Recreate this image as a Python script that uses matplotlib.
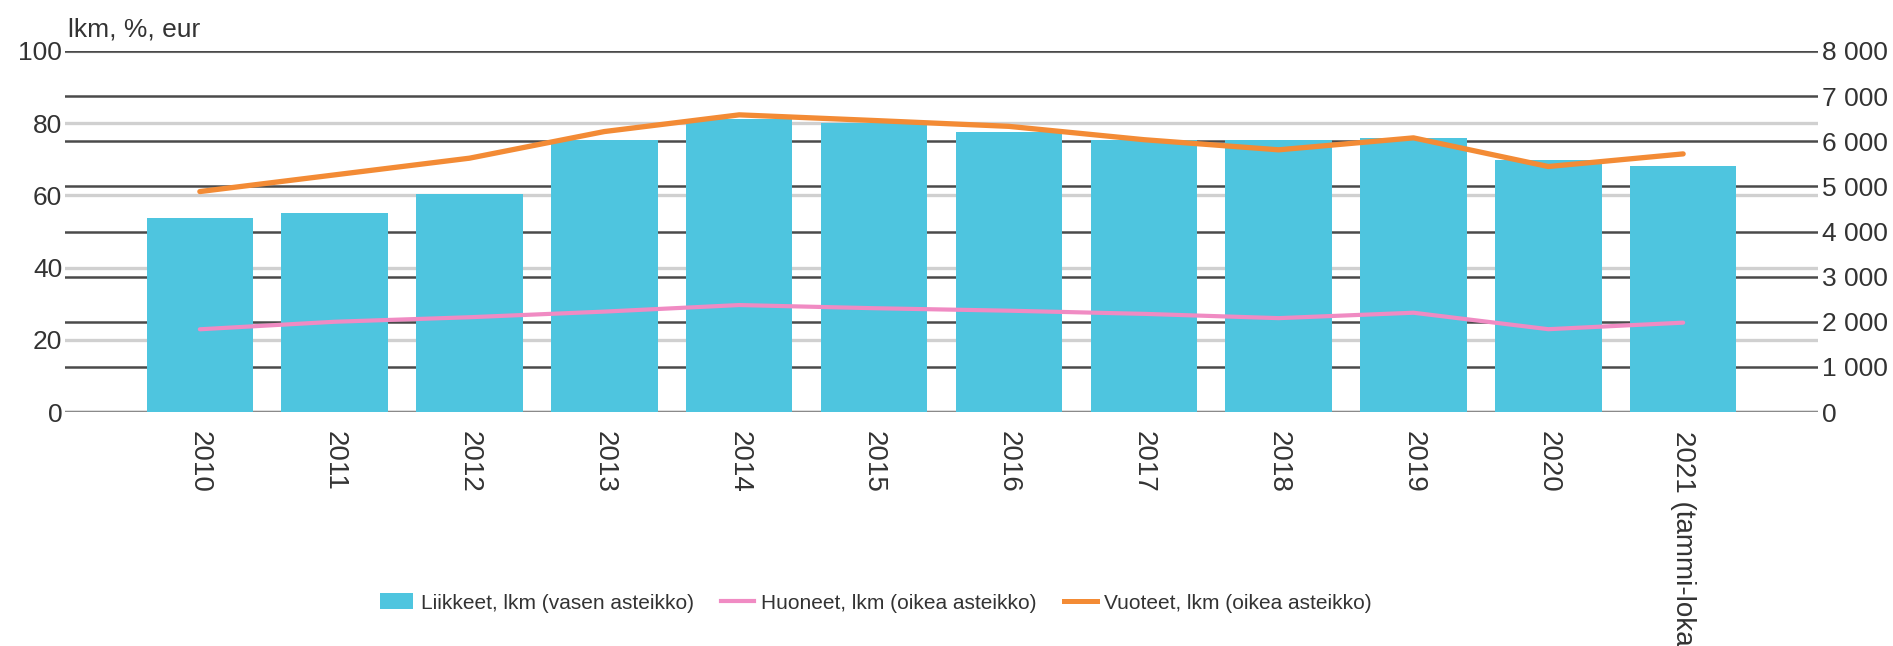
import matplotlib
matplotlib.use("Agg")
import matplotlib.pyplot as plt
from matplotlib.patches import Patch
from matplotlib.lines import Line2D
import numpy as np

plt.rcParams["font.family"] = ["Liberation Sans", "DejaVu Sans"]

years = ["2010", "2011", "2012", "2013", "2014", "2015", "2016", "2017",
         "2018", "2019", "2020", "2021 (tammi-lokakuu)"]

# Liikkeet, lkm (left axis)
liikkeet = [53.7, 55.0, 60.4, 75.3, 81.1, 80.0, 77.7, 75.3, 75.3, 75.8, 69.8, 68.1]
# Huoneet, lkm (right axis)
huoneet = [1833, 2000, 2100, 2225, 2370, 2300, 2245, 2175, 2080, 2200, 1835, 1980]
# Vuoteet, lkm (right axis)
vuoteet = [4885, 5255, 5625, 6215, 6585, 6460, 6330, 6035, 5810, 6075, 5440, 5720]

left_ticks = [0, 20, 40, 60, 80, 100]
right_ticks = [0, 1000, 2000, 3000, 4000, 5000, 6000, 7000, 8000]

bar_color = "#4EC5DF"
pink = "#F08BC3"
orange = "#F38B35"
text_color = "#333333"

fig = plt.figure(figsize=(18.93, 6.46), dpi=100)
ax = fig.add_axes([65 / 1893, 1 - 412 / 646, (1818 - 65) / 1893, (412 - 51) / 646])
ax2 = ax.twinx()

x = np.arange(len(years))

# grid: light lines on left scale, dark lines for right scale (all behind bars)
ax.set_axisbelow(True)
ax.set_yticks(left_ticks)
ax.grid(axis="y", which="major", color="#d0d0d0", linewidth=2.4)
for t in right_ticks[1:]:
    ax.axhline(t / 80, color="#4a4a4a", linewidth=1.8, zorder=1)
ax.axhline(0, color="#8a8a8a", linewidth=2.5, zorder=1)

ax.bar(x, liikkeet, width=0.79, color=bar_color, zorder=2)

ax2.plot(x, huoneet, color=pink, linewidth=3.0, solid_capstyle="round", zorder=3)
ax2.plot(x, vuoteet, color=orange, linewidth=3.8, solid_capstyle="round", zorder=3)

ax.set_xlim(-1, len(years))
ax.set_ylim(0, 100)
ax2.set_ylim(0, 8000)
ax2.set_yticks(right_ticks)
ax2.set_yticklabels([f"{t:,}".replace(",", " ") for t in right_ticks])

ax.set_xticks(x)
ax.set_xticklabels(years, rotation=270, fontsize=20, color=text_color)
ax.tick_params(axis="x", length=0, pad=14)
ax.tick_params(axis="y", which="both", length=0, pad=2, labelsize=19, labelcolor=text_color)
ax2.tick_params(axis="y", length=0, pad=3, labelsize=19, labelcolor=text_color)

for a in (ax, ax2):
    for s in a.spines.values():
        s.set_visible(False)

fig.text(68 / 1893, 1 - 37 / 646, "lkm, %, eur", fontsize=19, color=text_color,
         ha="left", va="baseline")

handles = [
    Patch(facecolor=bar_color, edgecolor="none"),
    Line2D([], [], color=pink, linewidth=3.0),
    Line2D([], [], color=orange, linewidth=3.6),
]
labels = ["Liikkeet, lkm (vasen asteikko)", "Huoneet, lkm (oikea asteikko)",
          "Vuoteet, lkm (oikea asteikko)"]
fig.legend(handles, labels, loc="center", bbox_to_anchor=(876 / 1893, 1 - 603 / 646),
           ncol=3, frameon=False, fontsize=15, labelcolor=text_color,
           handlelength=1.6, handleheight=0.8, handletextpad=0.35, columnspacing=1.3)

fig.savefig("out.png", dpi=100)
